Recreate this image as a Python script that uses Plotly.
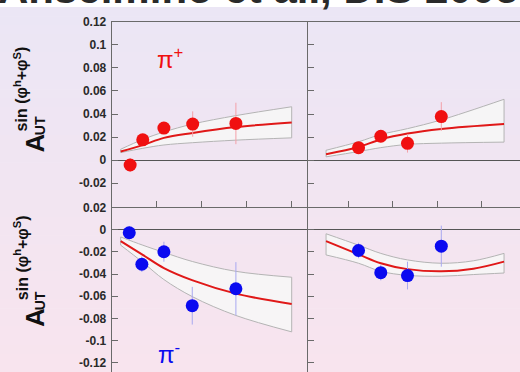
import plotly.graph_objects as go

# ---------------- data ----------------
# pi+ versus x
pip_x = [0.041, 0.069, 0.116, 0.180, 0.276]
pip_x_val = [-0.0043, 0.0176, 0.0278, 0.0313, 0.0318]
pip_x_err = [0.006, 0.005, 0.005, 0.011, 0.018]
fit_x = [0.020, 0.069, 0.116, 0.180, 0.276, 0.400]
pip_x_fit = [0.0074, 0.0130, 0.0193, 0.0236, 0.0287, 0.0327]
pip_x_hi = [0.0094, 0.0179, 0.0244, 0.0313, 0.0386, 0.0463]
pip_x_lo = [0.0065, 0.0102, 0.0131, 0.0151, 0.0173, 0.0193]

# pi+ versus z
pip_z = [0.323, 0.373, 0.433, 0.509]
pip_z_val = [0.0108, 0.0207, 0.0145, 0.0378]
pip_z_err = [0.004, 0.004, 0.008, 0.0125]
fit_z = [0.250, 0.323, 0.373, 0.433, 0.509, 0.650]
pip_z_fit = [0.0051, 0.0114, 0.0179, 0.0230, 0.0270, 0.0313]
pip_z_hi = [0.0085, 0.0159, 0.0222, 0.0273, 0.0349, 0.0528]
pip_z_lo = [0.0028, 0.0074, 0.0108, 0.0136, 0.0147, 0.0156]

# pi- versus x
pim_x = [0.039, 0.067, 0.116, 0.179, 0.276]
pim_x_val = [-0.0028, -0.0312, -0.0199, -0.0686, -0.0533]
pim_x_err = [0.006, 0.007, 0.009, 0.017, 0.024]
pim_x_fit = [-0.0104, -0.0228, -0.0347, -0.0458, -0.0577, -0.0671]
pim_x_hi = [-0.0066, -0.0140, -0.0205, -0.0288, -0.0376, -0.0429]
pim_x_lo = [-0.0140, -0.0294, -0.0450, -0.0606, -0.0774, -0.0922]

# pi- versus z
pim_z = [0.323, 0.373, 0.433, 0.509]
pim_z_val = [-0.0188, -0.0388, -0.0414, -0.0149]
pim_z_err = [0.007, 0.007, 0.0125, 0.0185]
fit_z2 = [0.250, 0.323, 0.373, 0.433, 0.509, 0.581, 0.650]
pim_z_fit = [-0.0104, -0.0223, -0.0303, -0.0356, -0.0376, -0.0352, -0.0288]
pim_z_hi = [-0.0037, -0.0140, -0.0214, -0.0273, -0.0303, -0.0281, -0.0214]
pim_z_lo = [-0.0228, -0.0303, -0.0376, -0.0412, -0.0420, -0.0405, -0.0391]

top_ticks = [0.12, 0.1, 0.08, 0.06, 0.04, 0.02, 0, -0.02]
top_labels = ["0.12", "0.1", "0.08", "0.06", "0.04", "0.02", "0", "-0.02"]
bot_ticks = [0.02, 0, -0.02, -0.04, -0.06, -0.08, -0.1, -0.12]
bot_labels = ["0.02", "0", "-0.02", "-0.04", "-0.06", "-0.08", "-0.1", "-0.12"]
x_ticks = [0.1, 0.2, 0.3, 0.4]
z_ticks = [0.3, 0.4, 0.5, 0.6]

# ---------------- styling ----------------
W, H = 520, 372
FONT = "Liberation Sans"
RED = "#f01010"
BLUE = "#0a0af0"
AXC = "#6a6a6a"


def px(v):
    return v / W


def py(v):
    return 1 - v / H


fig = go.Figure()


def band(x, hi, lo, xa, ya):
    fig.add_trace(go.Scatter(x=x, y=lo, mode="lines", line=dict(color="#b4b4b4", width=1, shape="spline"),
                             xaxis=xa, yaxis=ya, hoverinfo="skip", showlegend=False))
    fig.add_trace(go.Scatter(x=x, y=hi, mode="lines", line=dict(color="#b4b4b4", width=1, shape="spline"),
                             fill="tonexty", fillcolor="rgba(246,246,246,0.92)",
                             xaxis=xa, yaxis=ya, hoverinfo="skip", showlegend=False))
    # closing edges of the band
    for i in (0, -1):
        fig.add_trace(go.Scatter(x=[x[i], x[i]], y=[lo[i], hi[i]], mode="lines",
                                 line=dict(color="#b4b4b4", width=1),
                                 xaxis=xa, yaxis=ya, hoverinfo="skip", showlegend=False))


def fit(x, y, xa, ya):
    fig.add_trace(go.Scatter(x=x, y=y, mode="lines", line=dict(color="#e01818", width=2, shape="spline"),
                             xaxis=xa, yaxis=ya, showlegend=False))


def points(x, y, e, col, ecol, xa, ya):
    fig.add_trace(go.Scatter(x=x, y=y, mode="markers",
                             marker=dict(color=col, size=13, line=dict(width=0)),
                             error_y=dict(type="data", array=e, color=ecol, thickness=1, width=0),
                             xaxis=xa, yaxis=ya, showlegend=False))


band(fit_x, pip_x_hi, pip_x_lo, "x", "y")
fit(fit_x, pip_x_fit, "x", "y")
points(pip_x, pip_x_val, pip_x_err, RED, "#f3a0a8", "x", "y")

band(fit_z, pip_z_hi, pip_z_lo, "x2", "y2")
fit(fit_z, pip_z_fit, "x2", "y2")
points(pip_z, pip_z_val, pip_z_err, RED, "#f3a0a8", "x2", "y2")

band(fit_x, pim_x_hi, pim_x_lo, "x3", "y3")
fit(fit_x, pim_x_fit, "x3", "y3")
points(pim_x, pim_x_val, pim_x_err, BLUE, "#a8a8f0", "x3", "y3")

band(fit_z2, pim_z_hi, pim_z_lo, "x4", "y4")
fit(fit_z2, pim_z_fit, "x4", "y4")
points(pim_z, pim_z_val, pim_z_err, BLUE, "#a8a8f0", "x4", "y4")

# panel geometry (pixels)
x_left, x_mid, x_right = 111.7, 308.0, 520.0
y_top, y_mid, y_bot = 15.2, 204.0, 372.0

dom_l = [px(x_left), px(x_mid)]
dom_r = [px(x_mid), 1.0]
dom_t = [py(y_mid), py(y_top)]
dom_b = [0.0, py(y_mid)]

x_rng = [0.0, (x_mid - x_left) / 450.0]
z_rng = [0.3 - (348.3 - x_mid) / 445.0, 0.3 + (x_right - 348.3) / 445.0]
top_rng = [-(y_mid - 156.0) / 1173.3, 0.12]
bot_rng = [0.02 - (y_bot - 204.3) / 1130.0, 0.0203]

tickfont = dict(family=FONT, size=12, color="#2a2a2a", weight="bold")
base_x = dict(showgrid=False, zeroline=False, showticklabels=False, linecolor=AXC, linewidth=1,
              ticks="inside", ticklen=6, tickcolor=AXC)
base_y = dict(showgrid=False, zeroline=True, zerolinecolor="#555555", zerolinewidth=1.3,
              linecolor=AXC, linewidth=1, showline=True, ticks="inside", ticklen=6, tickcolor=AXC,
              tickfont=tickfont, ticklabelstandoff=2)

fig.update_layout(
    width=W, height=H, margin=dict(l=0, r=0, t=0, b=0),
    paper_bgcolor="rgba(0,0,0,0)", plot_bgcolor="rgba(0,0,0,0)",
    xaxis=dict(base_x, domain=dom_l, range=x_rng, anchor="y", showline=True, mirror=True, tickvals=x_ticks),
    xaxis2=dict(base_x, domain=dom_r, range=z_rng, anchor="y2", showline=True, mirror=True, tickvals=z_ticks),
    xaxis3=dict(base_x, domain=dom_l, range=x_rng, anchor="y3", showline=False, ticks=""),
    xaxis4=dict(base_x, domain=dom_r, range=z_rng, anchor="y4", showline=False, ticks=""),
    yaxis=dict(base_y, domain=dom_t, range=top_rng, anchor="x", tickvals=top_ticks, ticktext=top_labels),
    yaxis2=dict(base_y, domain=dom_t, range=top_rng, anchor="x2", tickvals=top_ticks, showticklabels=False),
    yaxis3=dict(base_y, domain=dom_b, range=bot_rng, anchor="x3", tickvals=bot_ticks, ticktext=bot_labels),
    yaxis4=dict(base_y, domain=dom_b, range=bot_rng, anchor="x4", tickvals=bot_ticks, showticklabels=False),
)

# soft vertical background gradient, lavender on top to pink at the bottom
top_c = (235, 230, 245)
bot_c = (248, 228, 238)
n = 40
shapes = []
for i in range(n):
    t = i / (n - 1)
    c = tuple(round(top_c[k] + (bot_c[k] - top_c[k]) * t) for k in range(3))
    shapes.append(dict(type="rect", xref="paper", yref="paper", x0=0, x1=1,
                       y0=1 - (i + 1) / n - 0.002, y1=1 - i / n,
                       fillcolor="rgb(%d,%d,%d)" % c, line=dict(width=0), layer="below"))
fig.update_layout(shapes=shapes)

ann = []
# heading that runs off the top edge
ann.append(dict(text="<b>Anselmino et al., DIS 2005</b>", xref="paper", yref="paper",
                x=px(-4), y=py(7), xanchor="left", yanchor="bottom", showarrow=False,
                font=dict(family=FONT, size=42, color="#2a2a2a")))

# rotated y-axis titles for both rows
for a_y, ut_y, sin_y in ((139, 121.5, 84), (317, 300, 256)):
    ann.append(dict(text="<b>A</b>", xref="paper", yref="paper", x=px(35), y=py(a_y),
                    xanchor="center", yanchor="middle",
                    textangle=-90, showarrow=False, font=dict(family=FONT, size=26, color="#111111")))
    ann.append(dict(text="<b>UT</b>", xref="paper", yref="paper", x=px(40), y=py(ut_y),
                    xanchor="center", yanchor="middle",
                    textangle=-90, showarrow=False, font=dict(family=FONT, size=14, color="#111111")))
    ann.append(dict(text="<b>sin (φ<sup>h</sup>+φ<sup>S</sup>)</b>", xref="paper", yref="paper",
                    x=px(21), y=py(sin_y), xanchor="center", yanchor="middle", textangle=-90,
                    showarrow=False, font=dict(family=FONT, size=16, color="#111111")))

ann.append(dict(text="π<sup>+</sup>", xref="paper", yref="paper", x=px(170), y=py(52),
                xanchor="center", yanchor="middle",
                showarrow=False, font=dict(family=FONT, size=24, color=RED)))
ann.append(dict(text="π<sup>-</sup>", xref="paper", yref="paper", x=px(169), y=py(353),
                xanchor="center", yanchor="middle",
                showarrow=False, font=dict(family=FONT, size=24, color=BLUE)))
fig.update_layout(annotations=ann)

fig.write_html("out.html")
